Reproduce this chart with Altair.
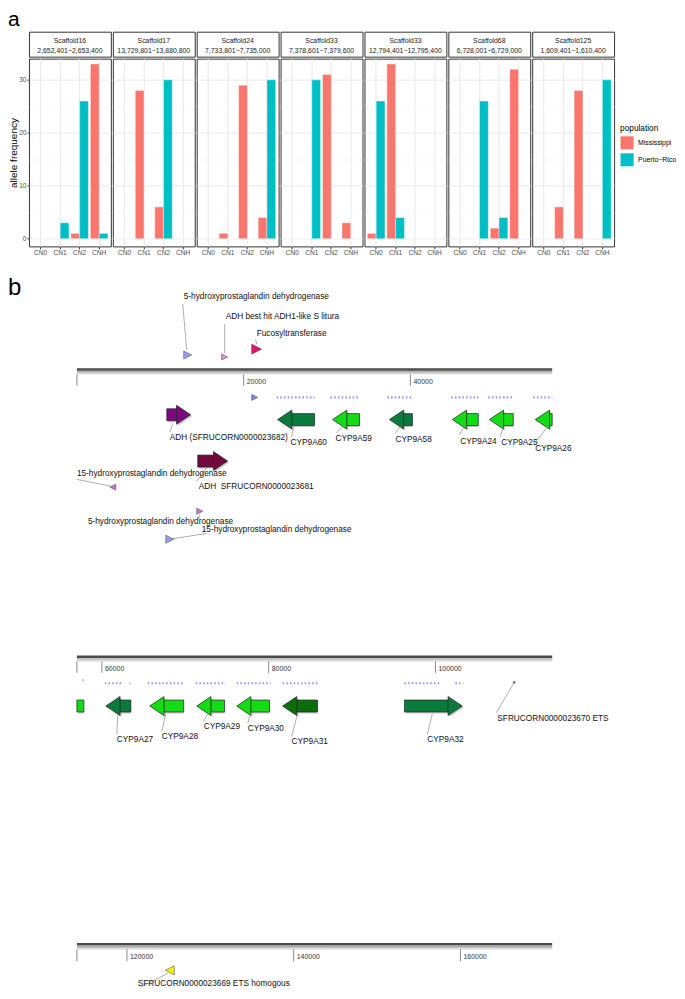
import altair as alt
import pandas as pd

FONT = "Liberation Sans"

# ------------------------------------------------------------------ panel a values
SCAFFOLDS = ["Scaffold16", "Scaffold17", "Scaffold24", "Scaffold33", "Scaffold33", "Scaffold68", "Scaffold125"]
REGIONS = ["2,652,401\u22122,653,400", "13,729,801\u221213,880,800", "7,733,801\u22127,735,000",
           "7,378,601\u22127,379,600", "12,794,401\u221212,795,400", "6,728,001\u22126,729,000",
           "1,609,401\u22121,610,400"]
CN_CLASSES = ["CN0", "CN1", "CN2", "CNH"]
POPULATIONS = ["Mississippi", "Puerto\u2212Rico"]
MISSISSIPPI = [[0, 0, 1, 33], [0, 28, 6, 0], [0, 1, 29, 4], [0, 0, 31, 3],
               [1, 33, 0, 0], [0, 0, 2, 32], [0, 6, 28, 0]]
PUERTO_RICO = [[0, 3, 26, 1], [0, 0, 30, 0], [0, 0, 0, 30], [0, 30, 0, 0],
               [26, 4, 0, 0], [0, 26, 4, 0], [0, 0, 0, 30]]
Y_BREAKS = [0, 10, 20, 30]
Y_MINOR = [5, 15, 25]

# ------------------------------------------------------------------ panel b values (bp)
TRACK_STARTS = [0, 57000, 114000]
TRACK_LEN = 57000
RULER_TICKS = [20000, 40000, 60000, 80000, 100000, 120000, 140000, 160000]

GENE_NAMES = ["ADH (SFRUCORN0000023682)", "ADH\u00a0 SFRUCORN0000023681", "CYP9A60", "CYP9A59", "CYP9A58",
              "CYP9A24", "CYP9A25", "CYP9A26", "CYP9A27", "CYP9A28", "CYP9A29", "CYP9A30", "CYP9A31", "CYP9A32"]
GENE_START = [10780, 14490, 24070, 30660, 37480, 45030, 49460, 54970, 60470, 65740, 71370, 76160, 81670, 96280]
GENE_END = [13650, 18080, 28500, 33890, 40240, 48140, 52330, 57840, 63470, 69810, 74720, 80110, 85860, 103220]
GENE_STRAND = ["+", "+", "-", "-", "-", "-", "-", "-", "-", "-", "-", "-", "-", "+"]
GENE_TYPE = ["adh1", "adh2", "cyp_dark", "cyp_bright", "cyp_dark", "cyp_bright", "cyp_bright", "cyp_bright",
             "cyp_dark", "cyp_bright", "cyp_bright", "cyp_bright", "cyp_forest", "cyp_dark"]

FEATURE_NAMES = ["5-hydroxyprostaglandin dehydrogenase", "ADH best hit ADH1-like S litura", "Fucosyltransferase",
                 "15-hydroxyprostaglandin dehydrogenase", "5-hydroxyprostaglandin dehydrogenase",
                 "15-hydroxyprostaglandin dehydrogenase", "", "SFRUCORN0000023670 ETS",
                 "SFRUCORN0000023669 ETS homogous"]
FEATURE_POS = [13290, 17720, 21560, 4310, 14730, 11140, 21320, 109450, 125140]
FEATURE_STRAND = ["+", "+", "+", "-", "+", "+", "+", ".", "-"]
FEATURE_TYPE = ["pgdh_blue", "adh_hit", "fucosyl", "pgdh_violet", "pgdh_pink", "pgdh_blue", "exon", "ets", "ets_h"]

EXON_START = [23950, 30420, 37240, 44900, 49340, 54730, 57660, 60350, 63300, 65500, 71250, 76160, 81670, 96280, 102390]
EXON_END = [28500, 33890, 40240, 48140, 52450, 57000, 57780, 62510, 63420, 69810, 74840, 80230, 85860, 100470, 103340]

# ------------------------------------------------------------------ layout / style
POP_COLORS = ["#F8766D", "#00BFC4"]
GENE_COLORS = {"adh1": "#7d0a7d", "adh2": "#730a3d", "cyp_dark": "#0b7a3d",
               "cyp_bright": "#14dc14", "cyp_forest": "#0a6e0a"}
FEATURE_COLORS = {"pgdh_blue": "#9a9aff", "adh_hit": "#e48ee4", "fucosyl": "#e3136c", "pgdh_violet": "#cc6acc",
                  "pgdh_pink": "#de6ade", "exon": "#8080ff", "ets": "#777777", "ets_h": "#f4f400"}
FEATURE_SIZE = [8, 6, 10, 6, 6, 8, 6, 2, 9]
GENE_ROW = [46, 94] + [51] * 12
GENE_LABEL_X = [11140, 14610, 25630, 31020, 38200, 45980, 50890, 54960,
                61790, 67180, 72210, 77480, 82750, 99030]
GENE_LABEL_ROW = [70, 121, 75, 71, 72, 74, 75, 82, 87, 84, 73, 75, 89, 87]
GENE_LEADER = [(11140, 64, 11500, 55), (14370, 115, 15570, 101), (25750, 69, 25990, 59), (31130, 65, 31850, 58),
               (38200, 65, 38800, 58), (45860, 67, 46460, 58), (50770, 69, 51130, 58), (54840, 76, 56400, 59),
               (61790, 81, 61910, 59), (67180, 78, 67660, 59), (72210, 67, 72690, 59), (77480, 69, 77840, 59),
               (82750, 83, 83470, 59), (99030, 81, 99630, 59)]
FEATURE_ROW = [-16, -14, -22, 121, 146, 175, 28, 26, 25]
FEATURE_LABEL_X = [12810, 17840, 21560, 0, 1320, 14970, None, 107420, 121300]
FEATURE_LABEL_ROW = [-76, -55, -38, 107, 157, 165, None, 65, 39]
FEATURE_LEADER = [(12690, -69, 13170, -21), (17720, -48, 17720, -18), (21440, -32, 21560, -27),
                  (0, 113, 4070, 120), (14730, 150, 14610, 154), (11140, 175, 15570, 169), None,
                  (109450, 26, 107300, 58), (124900, 28, 121660, 42)]
EXON_ROW = [28] * 6 + [24] + [27] * 8

BPPX = TRACK_LEN / 476.0
TRACK_W = 600
LEFT_PX = 48
HEAD_PX = 14
HEAD_BP = HEAD_PX * BPPX
HEAD_PATH = {"+": "M0,0L-1.5,-1L-1.5,1Z", "-": "M0,0L1.5,-1L1.5,1Z"}
TRI_PATH = {"+": "M-1,-1L1,0L-1,1Z", "-": "M1,-1L-1,0L1,1Z", ".": "circle"}
TRACK_ROWS = [(-112, 183), (-106, 99), (-189, 46)]
PANEL_W = 82


# ------------------------------------------------------------------ panel a
def bar_panel(i):
    rows = []
    for pop, vals in zip(POPULATIONS, [MISSISSIPPI[i], PUERTO_RICO[i]]):
        for cn, v in zip(CN_CLASSES, vals):
            rows.append({"cn": cn, "population": pop, "freq": v})
    df = pd.DataFrame(rows)
    first = i == 0
    cond = "datum.value % 10 != 0"
    ax = dict(values=sorted(Y_BREAKS + Y_MINOR), labels=first, ticks=first, domain=False, grid=True,
              labelExpr="datum.value % 10 == 0 ? datum.label : ''",
              tickOpacity={"condition": {"test": cond, "value": 0}, "value": 1},
              gridColor={"condition": {"test": cond, "value": "#F3F3F3"}, "value": "#E6E6E6"},
              gridWidth={"condition": {"test": cond, "value": 0.5}, "value": 0.9},
              labelFontSize=6.6, labelColor="#4D4D4D", tickColor="#333333", tickSize=2,
              labelPadding=1, titleFontSize=10, titleFontWeight="normal", titleColor="#000000",
              titlePadding=0)
    ax["title"] = "allele frequency" if first else None
    yscale = alt.Scale(domain=[-1.45, 34.0], nice=False, zero=False)
    bars = alt.Chart(df).mark_bar(stroke="white", strokeWidth=0.4).encode(
        x=alt.X("cn:N", sort=CN_CLASSES, title=None,
                scale=alt.Scale(paddingInner=0.1, paddingOuter=0.15),
                axis=alt.Axis(labelAngle=0, grid=True, bandPosition=0.5, domain=False, tickSize=2.5,
                              tickColor="#333333", labelFontSize=6.6, labelColor="#4D4D4D",
                              labelPadding=1, gridColor="#E6E6E6", gridWidth=0.9)),
        xOffset=alt.XOffset("population:N", sort=POPULATIONS,
                            scale=alt.Scale(paddingInner=0, paddingOuter=0)),
        y=alt.Y("freq:Q", scale=yscale, axis=alt.Axis(**ax)),
        color=alt.Color("population:N", scale=alt.Scale(domain=POPULATIONS, range=POP_COLORS),
                        legend=alt.Legend(title="population", orient="none", legendX=592, legendY=92)),
    ).properties(width=PANEL_W, height=188,
                 view=alt.ViewBackground(stroke="#333333", strokeWidth=1, fill="white"))
    strip = alt.Chart(pd.DataFrame({"t": [SCAFFOLDS[i] + "\n" + REGIONS[i]]})).mark_text(
        fontSize=6.9, lineHeight=10, color="#1A1A1A", font=FONT, lineBreak="\n", dy=-3.5
    ).encode(text="t:N").properties(width=PANEL_W, height=25,
                                     view=alt.ViewBackground(stroke="#333333", strokeWidth=1, fill="white"))
    return alt.vconcat(strip, bars, spacing=0)


panel_a = alt.hconcat(*[bar_panel(i) for i in range(len(SCAFFOLDS))], spacing=0)


# ------------------------------------------------------------------ panel b
def track_of(x):
    return int(x // TRACK_LEN)


def track_chart(t, title=None):
    ts = TRACK_STARTS[t]
    te = ts + TRACK_LEN
    top, bottom = TRACK_ROWS[t]
    xs = alt.Scale(domain=[ts - LEFT_PX * BPPX, ts + (TRACK_W - LEFT_PX) * BPPX], nice=False, zero=False)
    ys = alt.Scale(domain=[top, bottom], reverse=True, nice=False, zero=False)

    def X(f):
        return alt.X(f, type="quantitative", scale=xs, axis=None)

    def Y(f):
        return alt.Y(f, type="quantitative", scale=ys, axis=None)

    layers = []
    ruler = pd.DataFrame({"x": [ts], "x2": [te], "r0": [-1], "r1": [1.5], "r2": [3.5]})
    layers.append(alt.Chart(ruler).mark_rule(color="#4a4a4a", strokeWidth=2.5).encode(x=X("x"), x2="x2", y=Y("r0")))
    layers.append(alt.Chart(ruler).mark_rule(color="#8c8c8c", strokeWidth=1.2).encode(x=X("x"), x2="x2", y=Y("r1")))
    layers.append(alt.Chart(ruler).mark_rule(color="#c8c8c8", strokeWidth=1).encode(x=X("x"), x2="x2", y=Y("r2")))

    tvals = [v for v in RULER_TICKS if ts < v < te]
    ticks = pd.DataFrame({"x": [ts] + tvals, "y1": 4, "y2": 16})
    layers.append(alt.Chart(ticks).mark_rule(color="#8a8a8a", strokeWidth=1).encode(x=X("x"), y=Y("y1"), y2="y2"))
    tl = pd.DataFrame({"x": tvals, "row": 12, "label": [str(v) for v in tvals]})
    layers.append(alt.Chart(tl).mark_text(align="left", baseline="middle", dx=3, fontSize=7, color="#333333",
                                          font=FONT).encode(x=X("x"), y=Y("row"), text="label:N"))

    ex = pd.DataFrame({"x": EXON_START, "x2": EXON_END, "row": EXON_ROW})
    ex = ex[(ex.x >= ts) & (ex.x < te)]
    if len(ex):
        layers.append(alt.Chart(ex).mark_rule(color="#8080ff", strokeWidth=2.2, strokeDash=[1.5, 2.2],
                                              opacity=0.85).encode(x=X("x"), x2="x2", y=Y("row")))

    bodies, heads = [], []
    for n, s, e, st, ty, r in zip(GENE_NAMES, GENE_START, GENE_END, GENE_STRAND, GENE_TYPE, GENE_ROW):
        bs, be = (s, e - HEAD_BP) if st == "+" else (s + HEAD_BP, e)
        bs, be = max(bs, ts), min(be, te)
        if be > bs:
            bodies.append({"x": bs, "x2": be, "row": r, "color": GENE_COLORS[ty]})
        tip = e if st == "+" else s
        if ts <= tip < te:
            heads.append({"x": tip, "row": r, "color": GENE_COLORS[ty], "shape": HEAD_PATH[st]})
    if bodies:
        bd = pd.DataFrame(bodies)
        layers.append(alt.Chart(bd).mark_bar(orient="horizontal", size=12, color="#9a9a9a", opacity=0.5,
                                             xOffset=1.5, yOffset=1.5).encode(x=X("x"), x2="x2", y=Y("row")))
    if heads:
        hd = pd.DataFrame(heads)
        layers.append(alt.Chart(hd).mark_point(filled=True, size=361, color="#9a9a9a", opacity=0.5,
                                               xOffset=1.5, yOffset=1.5).encode(
            x=X("x"), y=Y("row"), shape=alt.Shape("shape:N", scale=None)))
    if bodies:
        layers.append(alt.Chart(bd).mark_bar(orient="horizontal", size=12, stroke="#222222",
                                             strokeWidth=0.7).encode(
            x=X("x"), x2="x2", y=Y("row"), color=alt.Color("color:N", scale=None)))
    if heads:
        layers.append(alt.Chart(hd).mark_point(filled=True, size=361, opacity=1, stroke="#222222",
                                               strokeWidth=0.7).encode(
            x=X("x"), y=Y("row"), shape=alt.Shape("shape:N", scale=None),
            fill=alt.Fill("color:N", scale=None)))

    lead, lab = [], []
    for n, lx, lr, ld in zip(GENE_NAMES, GENE_LABEL_X, GENE_LABEL_ROW, GENE_LEADER):
        if track_of(lx) == t:
            lab.append({"x": lx, "row": lr, "label": n})
            lead.append({"x": ld[0], "y": ld[1], "x2": ld[2], "y2": ld[3]})
    feats = []
    for n, p, st, ty, sz, r, lx, lr, ld in zip(FEATURE_NAMES, FEATURE_POS, FEATURE_STRAND, FEATURE_TYPE,
                                               FEATURE_SIZE, FEATURE_ROW, FEATURE_LABEL_X, FEATURE_LABEL_ROW,
                                               FEATURE_LEADER):
        if track_of(p) == t:
            feats.append({"x": p, "row": r, "color": FEATURE_COLORS[ty], "shape": TRI_PATH[st], "size": sz * sz})
        if lx is not None and track_of(lx) == t:
            lab.append({"x": lx, "row": lr, "label": n})
            lead.append({"x": ld[0], "y": ld[1], "x2": ld[2], "y2": ld[3]})
    if lead:
        layers.append(alt.Chart(pd.DataFrame(lead)).mark_rule(color="#8c8c8c", strokeWidth=0.7).encode(
            x=X("x"), y=Y("y"), x2="x2", y2="y2"))
    if feats:
        layers.append(alt.Chart(pd.DataFrame(feats)).mark_point(filled=True, opacity=1, stroke="#555555",
                                                                strokeWidth=0.6).encode(
            x=X("x"), y=Y("row"), shape=alt.Shape("shape:N", scale=None),
            fill=alt.Fill("color:N", scale=None), size=alt.Size("size:Q", scale=None)))
    if lab:
        layers.append(alt.Chart(pd.DataFrame(lab)).mark_text(align="left", baseline="middle", fontSize=8.3,
                                                             color="#111111", font=FONT).encode(
            x=X("x"), y=Y("row"), text="label:N"))

    props = dict(width=TRACK_W, height=bottom - top, view=alt.ViewBackground(strokeWidth=0, fill="white"))
    if title is not None:
        props["title"] = alt.TitleParams(title, anchor="start", fontSize=24, fontWeight="normal", font=FONT,
                                         dx=-21, offset=-43)
    return alt.layer(*layers).properties(**props)


panel_b = alt.vconcat(track_chart(0, "b"), track_chart(1), track_chart(2), spacing=0)

chart = alt.vconcat(panel_a, panel_b, spacing=0).properties(
    padding={"left": 0, "top": 0, "right": 0, "bottom": 0}, background="white",
    title=alt.TitleParams("a", anchor="start", fontSize=21, fontWeight="normal", font=FONT, offset=1,
                          frame="bounds")
).configure(font=FONT).configure_legend(
    titleFontSize=8.3, titleFontWeight="normal", titleColor="#000000", labelFontSize=6.9,
    labelColor="#000000", symbolType="square", symbolSize=170, symbolStrokeWidth=0, rowPadding=3,
    titlePadding=4, labelOffset=4
)

chart.save("out.html", embed_options={"renderer": "svg", "actions": False})
